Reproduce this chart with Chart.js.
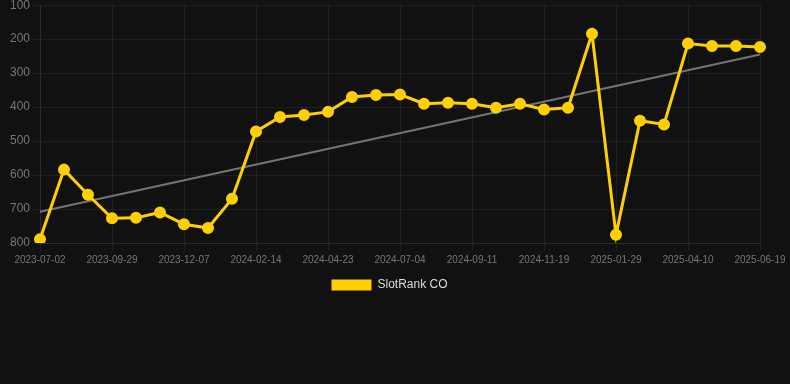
<!DOCTYPE html>
<html>
<head>
<meta charset="utf-8">
<script src="https://cdn.jsdelivr.net/npm/chart.js@4.4.1/dist/chart.umd.min.js"></script>
<style>
  html, body { margin: 0; padding: 0; background: #111111; overflow: hidden; }
  #wrap { width: 790px; height: 305px; position: relative; margin-top: -4px; }
</style>
</head>
<body>
<div id="wrap"><canvas id="c"></canvas></div>
<script>
const categories = [
  "2023-07-02","2023-08-01","2023-08-31","2023-09-29","2023-10-22","2023-11-14","2023-12-07",
  "2023-12-30","2024-01-22","2024-02-14","2024-03-08","2024-03-31","2024-04-23","2024-05-17",
  "2024-06-10","2024-07-04","2024-07-27","2024-08-19","2024-09-11","2024-10-04","2024-10-27",
  "2024-11-19","2024-12-13","2025-01-06","2025-01-29","2025-02-21","2025-03-17","2025-04-10",
  "2025-05-03","2025-05-26","2025-06-19"
];
const rankValues = [
  789, 584, 658, 727, 726, 710, 745,
  756, 670, 472, 429, 423, 414, 370,
  364, 363, 390, 387, 390, 402, 390,
  407, 402, 184, 776, 440, 451, 213,
  220, 220, 223
];
const trendValues = [708].concat(new Array(29).fill(null)).concat([245]);
const yTicks = [100, 200, 300, 400, 500, 600, 700, 800];

new Chart(document.getElementById('c'), {
  type: 'line',
  data: {
    labels: categories,
    datasets: [
      {
        label: 'SlotRank CO',
        data: rankValues,
        borderColor: '#FFD000',
        backgroundColor: '#FFD000',
        borderWidth: 3,
        pointRadius: 4.5,
        pointHoverRadius: 4.5,
        pointBackgroundColor: '#FFD000',
        pointBorderColor: '#FFD000',
        tension: 0,
        order: 1
      },
      {
        label: 'trend',
        data: trendValues,
        borderColor: 'rgba(150,150,150,0.75)',
        borderWidth: 2,
        pointRadius: 0,
        spanGaps: true,
        fill: false,
        order: 2
      }
    ]
  },
  options: {
    responsive: true,
    maintainAspectRatio: false,
    animation: false,
    layout: { padding: { left: 0, right: 11, top: 0, bottom: 0 } },
    plugins: {
      legend: {
        position: 'bottom',
        labels: {
          color: '#dddddd',
          font: { family: 'Arial, "Liberation Sans", sans-serif', size: 12 },
          boxWidth: 40,
          boxHeight: 11,
          generateLabels: (chart) => {
            const items = Chart.defaults.plugins.legend.labels.generateLabels(chart);
            return items.filter(i => i.text !== 'trend').map(i => Object.assign(i, { lineWidth: 0 }));
          }
        }
      },
      tooltip: { enabled: false }
    },
    scales: {
      x: {
        grid: { color: 'rgba(255,255,255,0.06)', drawTicks: true, tickLength: 8 },
        border: { color: 'rgba(255,255,255,0.06)' },
        ticks: {
          autoSkip: false,
          maxRotation: 0,
          color: '#777777',
          font: { family: 'Arial, "Liberation Sans", sans-serif', size: 10 },
          callback: function(value, index) {
            return index % 3 === 0 ? categories[index] : null;
          }
        }
      },
      y: {
        reverse: true,
        min: 100,
        max: 800,
        afterBuildTicks: (axis) => { axis.ticks = yTicks.map(v => ({ value: v })); },
        afterFit: (axis) => { axis.width = 40; },
        grid: { color: 'rgba(255,255,255,0.06)', tickLength: 8 },
        border: { color: 'rgba(255,255,255,0.06)' },
        ticks: {
          padding: 2,
          color: '#777777',
          font: { family: 'Arial, "Liberation Sans", sans-serif', size: 12 }
        }
      },
      yRight: {
        position: 'right',
        display: true,
        min: 100,
        max: 800,
        afterFit: (axis) => { axis.width = 19; },
        grid: { display: false, drawTicks: false },
        border: { display: false },
        ticks: { display: false }
      }
    }
  }
});
</script>
</body>
</html>
